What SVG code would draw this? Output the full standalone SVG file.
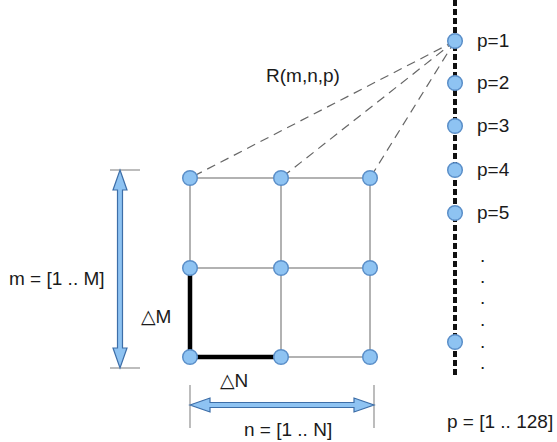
<svg xmlns="http://www.w3.org/2000/svg" width="557" height="442" viewBox="0 0 557 442">
<style>
text{font-family:"Liberation Sans",Arial,"DejaVu Sans",sans-serif;font-size:19px;fill:#1a1a1a}
.node{fill:#8ec3f2;stroke:#5b8fc9;stroke-width:1.5}
.grid{stroke:#999;stroke-width:1.5;fill:none}
.dash{stroke:#666;stroke-width:1.2;stroke-dasharray:9 6;fill:none}
.axis{stroke:#111;stroke-width:4;stroke-dasharray:6 3;fill:none}
.thick{stroke:#000;stroke-width:4.5;fill:none}
.tick{stroke:#999;stroke-width:1.3;fill:none}
.darr{fill:#8ec3f2;stroke:#3d6ea8;stroke-width:1.2}
</style>
<rect width="557" height="442" fill="#fff"/>
<g id="connectors">
<line class="axis" x1="455" y1="0" x2="455" y2="378"/>
<line class="dash" x1="455" y1="41" x2="190" y2="178"/>
<line class="dash" x1="455" y1="41" x2="281" y2="178"/>
<line class="dash" x1="455" y1="41" x2="370" y2="178"/>
<path class="grid" d="M190,178H370M190,268H370M190,357H370M190,178V357M281,178V357M370,178V357"/>
<path class="thick" d="M190,268V357H281"/>
</g>
<g id="dims">
<line class="tick" x1="110" y1="170" x2="140" y2="170"/>
<line class="tick" x1="110" y1="368" x2="140" y2="368"/>
<path class="darr" d="M120,170L127,190L122.5,190L122.5,348L127,348L120,368L113,348L117.5,348L117.5,190L113,190Z"/>
<line class="tick" x1="190" y1="385" x2="190" y2="428"/>
<line class="tick" x1="374" y1="385" x2="374" y2="428"/>
<path class="darr" d="M190,405L210,398L210,402.5L354,402.5L354,398L374,405L354,412L354,407.5L210,407.5L210,412Z"/>
</g>
<g id="grid-nodes">
<circle class="node" cx="190" cy="178" r="7.3"/>
<circle class="node" cx="281" cy="178" r="7.3"/>
<circle class="node" cx="370" cy="178" r="7.3"/>
<circle class="node" cx="190" cy="268" r="7.3"/>
<circle class="node" cx="281" cy="268" r="7.3"/>
<circle class="node" cx="370" cy="268" r="7.3"/>
<circle class="node" cx="190" cy="357" r="7.3"/>
<circle class="node" cx="281" cy="357" r="7.3"/>
<circle class="node" cx="370" cy="357" r="7.3"/>
</g>
<g id="p-nodes">
<circle class="node" cx="455" cy="41" r="7.3"/>
<circle class="node" cx="455" cy="83" r="7.3"/>
<circle class="node" cx="455" cy="126" r="7.3"/>
<circle class="node" cx="455" cy="170" r="7.3"/>
<circle class="node" cx="455" cy="213" r="7.3"/>
<circle class="node" cx="455" cy="342" r="7.3"/>
</g>
<g id="labels">
<text x="477" y="47">p=1</text>
<text x="477" y="89">p=2</text>
<text x="477" y="132">p=3</text>
<text x="477" y="176">p=4</text>
<text x="477" y="219">p=5</text>
<text x="480" y="262" font-size="12">.</text>
<text x="480" y="283" font-size="12">.</text>
<text x="480" y="304" font-size="12">.</text>
<text x="480" y="326" font-size="12">.</text>
<text x="480" y="348" font-size="12">.</text>
<text x="480" y="369" font-size="12">.</text>
<text x="266" y="82">R(m,n,p)</text>
<text x="9" y="285">m = [1 .. M]</text>
<text x="141" y="323">△M</text>
<text x="220" y="387">△N</text>
<text x="244" y="436">n = [1 .. N]</text>
<text x="447" y="428">p = [1 .. 128]</text>
</g>
</svg>
